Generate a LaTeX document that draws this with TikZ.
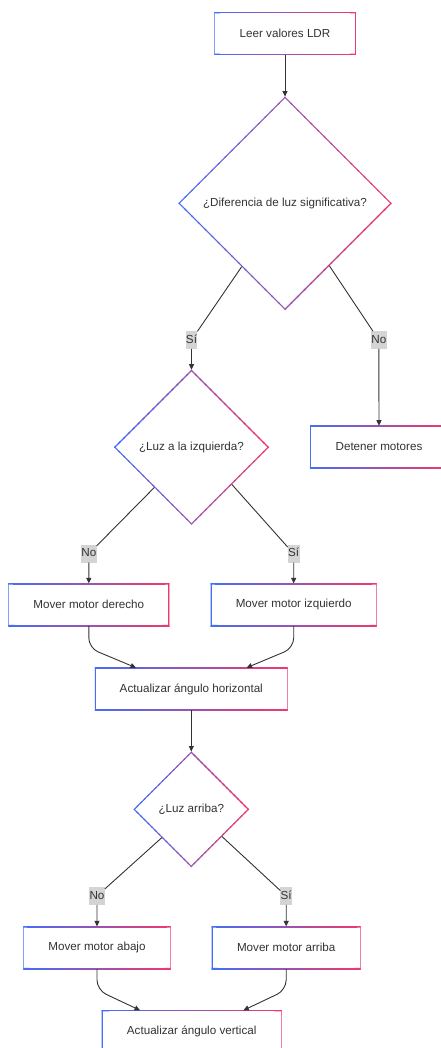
\documentclass[tikz,border=0pt]{standalone}
\usepackage{fontspec}
\setmainfont{Liberation Sans}
\usetikzlibrary{shapes.geometric,arrows.meta,calc,shadows}
\definecolor{gA}{RGB}{66,110,248}
\definecolor{gB}{RGB}{240,56,108}
\definecolor{txt}{RGB}{51,51,51}
\definecolor{lbl}{RGB}{212,212,212}
\newcommand{\dgfont}{\fontsize{11.65}{14}\selectfont}
\begin{document}
\begin{tikzpicture}[x=1pt,y=-1pt,
  shd/.style={drop shadow={shadow xshift=0.5pt,shadow yshift=-0.7pt,opacity=0.07,fill=black}},
  bline/.style={line width=2.2pt, line cap=rect},
  gradbox/.style={rectangle, inner sep=0pt, outer sep=0pt, minimum height=42.6pt,
    fill=white, text=txt, font=\dgfont, shd,
    path picture={
      \path (path picture bounding box.north west) coordinate (gNW)
            (path picture bounding box.north east) coordinate (gNE)
            (path picture bounding box.south west) coordinate (gSW)
            (path picture bounding box.south east) coordinate (gSE);
      \foreach \i in {0,...,29}{
        \pgfmathsetmacro{\ga}{\i/30}\pgfmathsetmacro{\gb}{(\i+1)/30}\pgfmathsetmacro{\gp}{(\i+0.5)/30*100}
        \draw[bline, color={gB!\gp!gA}] ($(gNW)!\ga!(gNE)$) -- ($(gNW)!\gb!(gNE)$);
        \draw[bline, color={gB!\gp!gA}] ($(gSW)!\ga!(gSE)$) -- ($(gSW)!\gb!(gSE)$);
      }
      \draw[bline, color=gA] (gNW) -- (gSW);
      \draw[bline, color=gB] (gNE) -- (gSE);
    }},
  graddiamond/.style={diamond, aspect=1, inner sep=0pt, outer sep=0pt,
    fill=white, text=txt, font=\dgfont, shd,
    path picture={
      \path (path picture bounding box.north) coordinate (gN)
            (path picture bounding box.east) coordinate (gE)
            (path picture bounding box.south) coordinate (gS)
            (path picture bounding box.west) coordinate (gW);
      \foreach \i in {0,...,15}{
        \pgfmathsetmacro{\ga}{\i/16}\pgfmathsetmacro{\gb}{(\i+1)/16}
        \pgfmathsetmacro{\gp}{(\i+0.5)/32*100}\pgfmathsetmacro{\gq}{50+(\i+0.5)/32*100}
        \draw[bline, color={gB!\gp!gA}] ($(gW)!\ga!(gN)$) -- ($(gW)!\gb!(gN)$);
        \draw[bline, color={gB!\gp!gA}] ($(gW)!\ga!(gS)$) -- ($(gW)!\gb!(gS)$);
        \draw[bline, color={gB!\gq!gA}] ($(gN)!\ga!(gE)$) -- ($(gN)!\gb!(gE)$);
        \draw[bline, color={gB!\gq!gA}] ($(gS)!\ga!(gE)$) -- ($(gS)!\gb!(gE)$);
      }
    }},
  lab/.style={fill=lbl, text=txt, font=\dgfont, inner xsep=0.4pt, inner ysep=0pt, outer sep=0pt,
    minimum height=17.7pt, text height=8.6pt, text depth=2.4pt},
  conn/.style={draw=txt, line width=0.9pt, -{Triangle[length=5.5pt,width=5pt]}}
]
\path[use as bounding box, clip] (0,0) rectangle (441,1048);
\fill[white] (0,0) rectangle (441,1048);

\node[gradbox, minimum width=141.5pt] (b1) at (285,33.5) {Leer valores LDR};
\node[graddiamond, minimum width=213.4pt, minimum height=213.4pt] (d1) at (285,203.3) {¿Diferencia de luz significativa?};
\node[lab] (l1) at (191.5,340) {Sí};
\node[lab] (l2) at (378.8,340) {No};
\node[graddiamond, minimum width=155pt, minimum height=155pt] (d2) at (191.5,447.2) {¿Luz a la izquierda?};
\node[gradbox, minimum width=138pt] (bdet) at (379,447) {Detener motores};
\node[lab] (l3) at (88.8,553.8) {No};
\node[lab] (l4) at (293.7,553.8) {Sí};
\node[gradbox, minimum width=161pt] (bder) at (88.8,604.7) {Mover motor derecho};
\node[gradbox, minimum width=166pt] (bizq) at (293.7,604.7) {Mover motor izquierdo};
\node[gradbox, minimum width=192.7pt] (bhor) at (191.3,689) {Actualizar ángulo horizontal};
\node[graddiamond, minimum width=115.6pt, minimum height=115.6pt] (d3) at (191.3,809.3) {¿Luz arriba?};
\node[lab] (l5) at (97,896) {No};
\node[lab] (l6) at (286.2,896) {Sí};
\node[gradbox, minimum width=147.4pt] (baba) at (97,947.7) {Mover motor abajo};
\node[gradbox, minimum width=149pt] (barr) at (286.2,947.7) {Mover motor arriba};
\node[gradbox, minimum width=180pt] (bver) at (191.7,1031.6) {Actualizar ángulo vertical};

\draw[conn] (b1) -- (d1.north);
\draw[conn] ($(d1.west)!0.594!(d1.south)$) -- (l1) -- (d2.north);
\draw[conn] ($(d1.south)!0.415!(d1.east)$) -- (l2) -- (bdet.north);
\draw[conn] ($(d2.west)!0.52!(d2.south)$) -- (l3) -- (bder.north);
\draw[conn] ($(d2.south)!0.52!(d2.east)$) -- (l4) -- (bizq.north);
\draw[conn, rounded corners=10pt] (bder.south) -- ++(0,22) -- ($(bhor.north west)!0.213!(bhor.north east)$);
\draw[conn, rounded corners=10pt] (bizq.south) -- ++(0,22) -- ($(bhor.north west)!0.787!(bhor.north east)$);
\draw[conn] (bhor) -- (d3.north);
\draw[conn] ($(d3.west)!0.49!(d3.south)$) -- (l5) -- (baba.north);
\draw[conn] ($(d3.south)!0.53!(d3.east)$) -- (l6) -- (barr.north);
\draw[conn, rounded corners=10pt] (baba.south) -- ++(0,21) -- ($(bver.north west)!0.213!(bver.north east)$);
\draw[conn, rounded corners=10pt] (barr.south) -- ++(0,21) -- ($(bver.north west)!0.787!(bver.north east)$);
\end{tikzpicture}
\end{document}
